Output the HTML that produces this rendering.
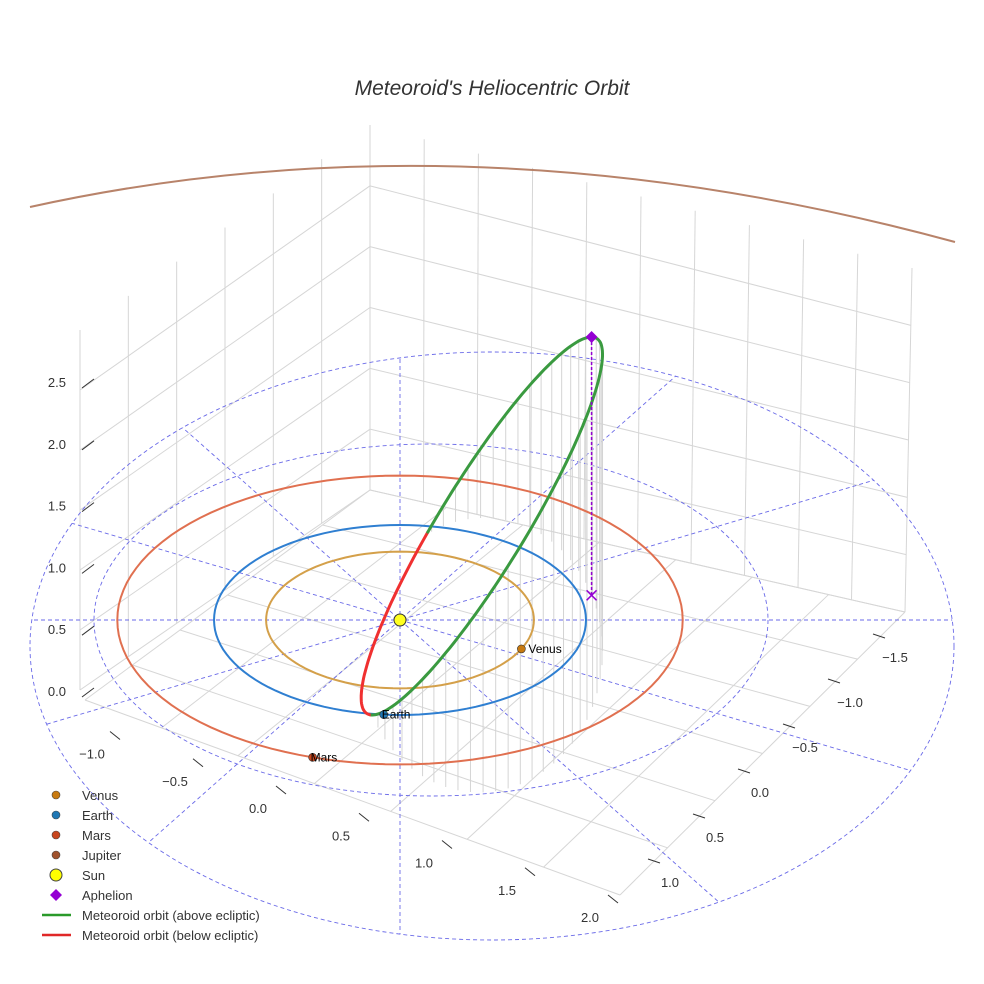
<!DOCTYPE html>
<html><head><meta charset="utf-8"><style>
body{margin:0;background:#fff}
svg{display:block;font-family:"Liberation Sans",sans-serif}
</style></head><body>
<svg id="chart" width="984" height="984" viewBox="0 0 984 984">
<defs><clipPath id="ringclip"><ellipse cx="492" cy="646" rx="462" ry="294"/></clipPath></defs>
<text x="492" y="95" text-anchor="middle" font-size="21" font-style="italic" fill="#333">Meteoroid's Heliocentric Orbit</text>
<g id="box" stroke="#d6d6d6" stroke-width="1" fill="none"></g>
<g id="rings"></g>
<g id="drops"></g>
<g id="orbits"></g>
<g id="met"></g>
<g id="marks"></g>
<g id="ticks" font-size="13" fill="#333"></g>
<g id="legend" font-size="13" fill="#333"></g>
</svg>
<script>
const planetNames=['Venus','Earth','Mars'];
const planetRadii=[0.72,1.0,1.52];
const planetAngles=[-25,-95,-108];
const planetColors=['#d4a04a','#2f7fd1','#e07050'];
const markerColors=['#c87a10','#1f77b4','#c8461e'];
const zTicks=[0,0.5,1,1.5,2,2.5];
const yTicks=[-1,-0.5,0,0.5,1,1.5,2];
const xTicks=[-1.5,-1,-0.5,0,0.5,1];
const periPoint=[-0.15,-1.0,0];
const aphPoint=[1.03,0.26,2.1];
const widthVec=[-0.27,1.3,-1.0];
const NS='http://www.w3.org/2000/svg';
function mk(t,a,p){const e=document.createElementNS(NS,t);for(const k in a)e.setAttribute(k,a[k]);(p||document.getElementById('chart')).appendChild(e);return e;}
function P(x,y,z){return [400+186*x,620-95*y-123*z];}
function lerp(a,b,t){return [a[0]+(b[0]-a[0])*t,a[1]+(b[1]-a[1])*t];}
function gl(a,b,name){const l=mk('line',{x1:a[0],y1:a[1],x2:b[0],y2:b[1]},document.getElementById('box'));}
const FL=[85,700],BL=[370,490],FR=[620,895],BR=[905,612];
const TL=[80,330],TB=[370,125],TR=[912,268];
const LB=[80,690];
for(let i=0;i<=6;i++){gl(lerp(LB,BL,i/6),lerp(TL,TB,i/6),'left-wall-gridline');}
for(let k=0;k<=5;k++){gl(lerp(LB,TL,k/6),lerp(BL,TB,k/6),'left-wall-gridline');}
for(let i=0;i<=10;i++){gl(lerp(BL,BR,i/10),lerp(TB,TR,i/10),'right-wall-gridline');}
for(let k=0;k<=5;k++){gl(lerp(BL,TB,k/6),lerp(BR,TR,k/6),'right-wall-gridline');}
for(let i=0;i<=7;i++){gl(lerp(FL,FR,i/7),lerp(BL,BR,i/7),'floor-gridline');}
for(let i=0;i<=6;i++){gl(lerp(FL,BL,i/6),lerp(FR,BR,i/6),'floor-gridline');}
const rings=document.getElementById('rings');
[[492,646,462,294],[431,620,337,176]].forEach(r=>{const e=mk('ellipse',{cx:r[0],cy:r[1],rx:r[2],ry:r[3],fill:'none',stroke:'#6a6ae8','stroke-width':0.9,'stroke-dasharray':'4,3'},rings);});
const rad=mk('g',{'clip-path':'url(#ringclip)'},rings);
for(let a=0;a<180;a+=30){const t=a*Math.PI/180,p1=P(4*Math.cos(t),4*Math.sin(t),0),p2=P(-4*Math.cos(t),-4*Math.sin(t),0);const l=mk('line',{x1:p1[0],y1:p1[1],x2:p2[0],y2:p2[1],stroke:'#6a6ae8','stroke-width':0.9,'stroke-dasharray':'4,3'},rad);}
const orb=document.getElementById('orbits');
planetRadii.forEach((r,i)=>{let d='';for(let k=0;k<=120;k++){const t=k/120*2*Math.PI,p=P(r*Math.cos(t),r*Math.sin(t),0);d+=(k?'L':'M')+p[0].toFixed(1)+','+p[1].toFixed(1);}const e=mk('path',{d:d,fill:'none',stroke:planetColors[i],'stroke-width':2},orb);});
const jup=mk('path',{d:'M30,207 Q470,110 955,242',fill:'none',stroke:'#b8836a','stroke-width':2},orb);

const met=document.getElementById('met'),drops=document.getElementById('drops');
const C=[0,1,2].map(i=>(periPoint[i]+aphPoint[i])/2),U=[0,1,2].map(i=>(aphPoint[i]-periPoint[i])/2);
const pts=[];
for(let k=0;k<=360;k+=2){const t=k*Math.PI/180;const q=[0,1,2].map(i=>C[i]-Math.cos(t)*U[i]+Math.sin(t)*widthVec[i]);pts.push(q);}
let segs=[],cur=null,curNeg=null;
pts.forEach(q=>{const neg=q[2]<0;const p=P(q[0],q[1],q[2]);if(neg!==curNeg){if(cur)cur.pts.push(p);cur={neg:neg,pts:[]};segs.push(cur);curNeg=neg;}cur.pts.push(p);});
pts.forEach((q,k)=>{if(k%3||q[2]<=0.05)return;const a=P(q[0],q[1],q[2]),b=P(q[0],q[1],0);const l=mk('line',{x1:a[0],y1:a[1],x2:b[0],y2:b[1],stroke:'#d4d4d4','stroke-width':1},drops);});
segs.forEach(s=>{const e=mk('polyline',{points:s.pts.map(p=>p[0].toFixed(1)+','+p[1].toFixed(1)).join(' '),fill:'none',stroke:s.neg?'#f03030':'#3a9a40','stroke-width':3,'stroke-linecap':'round'},met);});
const marks=document.getElementById('marks');
const A=P(...aphPoint),A0=P(aphPoint[0],aphPoint[1],0);
const al=mk('line',{x1:A[0],y1:A[1],x2:A0[0],y2:A0[1],stroke:'#9400d3','stroke-dasharray':'3,2','stroke-width':1.5},marks);
const ad=mk('path',{d:`M${A[0]},${A[1]-6}l6,6l-6,6l-6,-6z`,fill:'#9400d3'},marks);
const ax=mk('path',{d:`M${A0[0]-5},${A0[1]-5}l10,10M${A0[0]+5},${A0[1]-5}l-10,10`,stroke:'#9400d3','stroke-width':1.5},marks);
const S=P(0,0,0);const sun=mk('circle',{cx:S[0],cy:S[1],r:6,fill:'#ffff20',stroke:'#333'},marks);
planetNames.forEach((n,i)=>{const t=planetAngles[i]*Math.PI/180,p=P(planetRadii[i]*Math.cos(t),planetRadii[i]*Math.sin(t),0);const c=mk('circle',{cx:p[0],cy:p[1],r:4,fill:markerColors[i],stroke:'#333','stroke-width':0.6},marks);const tx=mk('text',{x:p[0]+(i==0?7:-2),y:p[1]+4,'font-size':12,fill:'#000'},marks);tx.textContent=n;});
const tk=document.getElementById('ticks');
zTicks.forEach(v=>{const y=691-v*123.6;const t=mk('text',{x:66,y:y+5,'text-anchor':'end'},tk);t.textContent=v.toFixed(1);const l=mk('line',{x1:82,y1:y+6,x2:94,y2:y-3,stroke:'#333'},tk);});
yTicks.forEach(v=>{const x=258+v*166,y=808+v*54.5;const t=mk('text',{x:x,y:y+5,'text-anchor':'middle'},tk);t.textContent=v<0?'\u2212'+Math.abs(v).toFixed(1):v.toFixed(1);const l=mk('line',{x1:x+18,y1:y-22,x2:x+28,y2:y-14,stroke:'#333'},tk);});
xTicks.forEach(v=>{const x=760-v*90,y=792+v*90;const t=mk('text',{x:x,y:y+5,'text-anchor':'middle'},tk);t.textContent=v<0?'\u2212'+Math.abs(v).toFixed(1):v.toFixed(1);const l=mk('line',{x1:x-22,y1:y-23,x2:x-10,y2:y-19,stroke:'#333'},tk);});
const lg=document.getElementById('legend');
const legNames=['Venus','Earth','Mars','Jupiter','Sun','Aphelion','Meteoroid orbit (above ecliptic)','Meteoroid orbit (below ecliptic)'];
const legColors=['#c87a10','#1f77b4','#c8461e','#a0522d','#ffff00','#9400d3','#2a9a2a','#e02828'];
legNames.forEach((n,i)=>{const y=795+i*20;let m;
if(i<4)m=mk('circle',{cx:56,cy:y,r:4,fill:legColors[i],stroke:'#444','stroke-width':0.6},lg);
else if(i==4)m=mk('circle',{cx:56,cy:y,r:6,fill:legColors[i],stroke:'#444'},lg);
else if(i==5)m=mk('path',{d:`M56,${y-6}l6,6l-6,6l-6,-6z`,fill:legColors[i]},lg);
else m=mk('line',{x1:42,y1:y,x2:71,y2:y,stroke:legColors[i],'stroke-width':2.5},lg);

const t=mk('text',{x:82,y:y+5},lg);t.textContent=n;});
</script>
</body></html>
